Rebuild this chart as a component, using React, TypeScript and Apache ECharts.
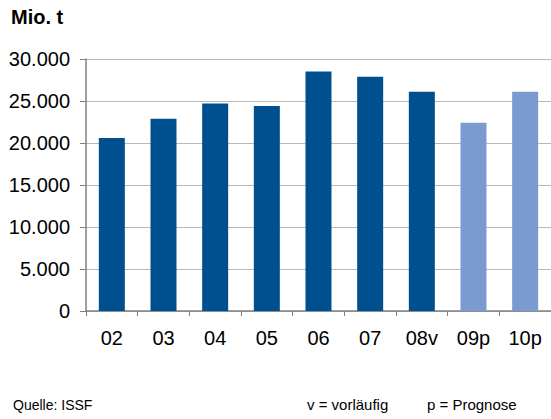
import React, { useEffect, useRef } from "react";
import * as echarts from "echarts";

const categories = ["02", "03", "04", "05", "06", "07", "08v", "09p", "10p"];
const values = [20600, 22900, 24700, 24400, 28500, 27900, 26100, 22400, 26100];
const forecast = [false, false, false, false, false, false, false, true, true];
const yTicks = [0, 5000, 10000, 15000, 20000, 25000, 30000];

const DARK = "#00508F";
const LIGHT = "#7B9BD0";
const FONT = "'Liberation Sans', Arial, sans-serif";

function fmt(v: number): string {
  return String(v).replace(/\B(?=(\d{3})+(?!\d))/g, ".");
}

export default function App() {
  const ref = useRef<HTMLDivElement>(null);
  useEffect(() => {
    if (!ref.current) return;
    const chart = echarts.init(ref.current, undefined, { renderer: "svg" });
    chart.setOption({
      animation: false,
      backgroundColor: "#ffffff",
      grid: { left: 86, top: 59, right: 0, bottom: 108, containLabel: false },
      xAxis: {
        type: "category",
        data: categories,
        boundaryGap: true,
        axisLine: { show: true, lineStyle: { color: "#808080", width: 1.5 } },
        axisTick: { show: true, length: 5, alignWithLabel: false, lineStyle: { color: "#808080" } },
        axisLabel: { fontFamily: FONT, fontSize: 20, color: "#000", margin: 17 },
      },
      yAxis: {
        type: "value",
        min: yTicks[0],
        max: yTicks[yTicks.length - 1],
        interval: yTicks[1] - yTicks[0],
        axisLine: { show: true, lineStyle: { color: "#808080", width: 1.5 } },
        axisTick: { show: true, length: 6, lineStyle: { color: "#808080" } },
        splitLine: { show: true, lineStyle: { color: "#b8b8b8", width: 1 } },
        axisLabel: {
          fontFamily: FONT,
          fontSize: 20,
          color: "#000",
          margin: 16,
          formatter: (v: number) => fmt(v),
        },
      },
      series: [
        {
          type: "bar",
          barWidth: 26,
          data: values.map((v, i) => ({
            value: v,
            itemStyle: { color: forecast[i] ? LIGHT : DARK },
          })),
        },
      ],
      graphic: [
        {
          type: "text",
          left: 11,
          top: 7,
          style: { text: "Mio. t", font: `bold 20px ${FONT}`, fill: "#000" },
        },
        {
          type: "text",
          left: 13,
          top: 398,
          style: { text: "Quelle: ISSF", font: `14px ${FONT}`, fill: "#000" },
        },
        {
          type: "text",
          left: 307,
          top: 397,
          style: { text: "v = vorläufig", font: `15px ${FONT}`, fill: "#000" },
        },
        {
          type: "text",
          left: 427,
          top: 397,
          style: { text: "p = Prognose", font: `15px ${FONT}`, fill: "#000" },
        },
      ],
    });
    return () => chart.dispose();
  }, []);
  return (
    <div
      ref={ref}
      style={{ position: "fixed", left: 0, top: 0, width: 551, height: 419 }}
    />
  );
}
